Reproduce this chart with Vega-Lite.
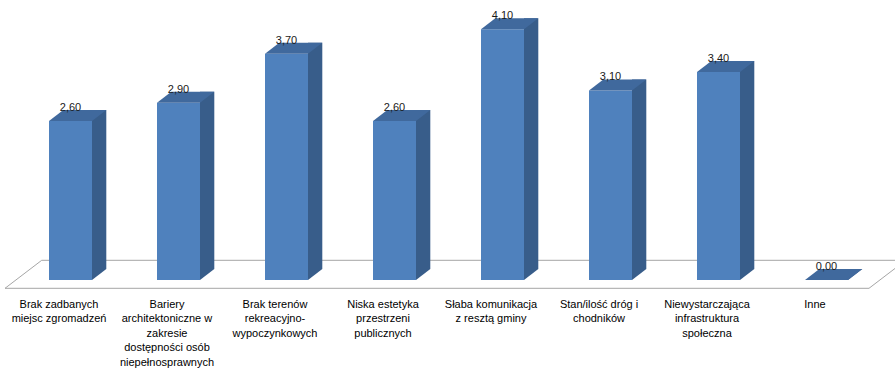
{
  "$schema": "https://vega.github.io/schema/vega-lite/v6.json",
  "width": 895,
  "height": 280,
  "autosize": {"type": "none"},
  "padding": {"left": 0, "top": 0, "right": 0, "bottom": 89},
  "config": {
    "view": {"stroke": null},
    "font": "Liberation Sans"
  },
  "data": {
    "values": [
      {"kategoria": "Brak zadbanych\nmiejsc zgromadzeń", "wartosc": 2.6},
      {"kategoria": "Bariery\narchitektoniczne w\nzakresie\ndostępności osób\nniepełnosprawnych", "wartosc": 2.9},
      {"kategoria": "Brak terenów\nrekreacyjno-\nwypoczynkowych", "wartosc": 3.7},
      {"kategoria": "Niska estetyka\nprzestrzeni\npublicznych", "wartosc": 2.6},
      {"kategoria": "Słaba komunikacja\nz resztą gminy", "wartosc": 4.1},
      {"kategoria": "Stan/ilość dróg i\nchodników", "wartosc": 3.1},
      {"kategoria": "Niewystarczająca\ninfrastruktura\nspołeczna", "wartosc": 3.4},
      {"kategoria": "Inne", "wartosc": 0}
    ]
  },
  "encoding": {
    "x": {
      "field": "kategoria",
      "type": "nominal",
      "sort": null,
      "scale": {
        "domain": [
          "Brak zadbanych\nmiejsc zgromadzeń",
          "Bariery\narchitektoniczne w\nzakresie\ndostępności osób\nniepełnosprawnych",
          "Brak terenów\nrekreacyjno-\nwypoczynkowych",
          "Niska estetyka\nprzestrzeni\npublicznych",
          "Słaba komunikacja\nz resztą gminy",
          "Stan/ilość dróg i\nchodników",
          "Niewystarczająca\ninfrastruktura\nspołeczna",
          "Inne"
        ],
        "range": [16.5, 880.5],
        "paddingInner": 0,
        "paddingOuter": 0
      },
      "axis": {
        "title": null,
        "domain": false,
        "ticks": false,
        "labelAngle": 0,
        "labelExpr": "split(datum.label, '\\n')",
        "labelFont": "Liberation Sans",
        "labelFontSize": 11,
        "labelColor": "#000000",
        "labelLineHeight": 14.6,
        "labelBaseline": "alphabetic",
        "labelPadding": 27,
        "labelOffset": -11.5,
        "labelOverlap": false,
        "labelBound": false,
        "labelFlush": false,
        "labelLimit": 0
      }
    },
    "y": {
      "field": "wartosc",
      "type": "quantitative",
      "scale": {"domain": [0, 4.579], "nice": false},
      "axis": null
    }
  },
  "layer": [
    {
      "transform": [{"filter": {"field": "kategoria", "equal": "Inne"}}],
      "mark": {"type": "point", "shape": "M-821.5,8.3L42.5,8.3L79.2,-19.7L-784.8,-19.7Z", "size": 4, "filled": false, "fill": "#ffffff", "fillOpacity": 1, "stroke": "#a6a6a6", "strokeWidth": 1, "strokeOpacity": 1, "opacity": 1},
      "encoding": {"y": {"datum": 0}}
    },
    {
      "mark": {"type": "bar", "width": 14.3, "xOffset": 28.65, "yOffset": -11, "y2Offset": -11, "color": "#385D8A"},
      "encoding": {"y2": {"datum": 0}}
    },
    {
      "mark": {"type": "point", "shape": "M21.5,0L21.5,-11L35.8,-11Z", "size": 4, "filled": true, "color": "#385D8A", "opacity": 1, "strokeWidth": 0},
      "encoding": {"y": {"datum": 0}}
    },
    {
      "mark": {"type": "bar", "width": 43, "color": "#4F81BD"}
    },
    {
      "mark": {"type": "point", "shape": "M-21.5,0L21.5,0L35.8,-11L-7.2,-11Z", "size": 4, "filled": true, "color": "#40699D", "opacity": 1, "strokeWidth": 0}
    },
    {
      "mark": {"type": "text", "dy": -10, "baseline": "alphabetic", "align": "center", "fontSize": 11, "font": "Liberation Sans", "color": "#1a1a1a", "text": {"expr": "replace(format(datum.wartosc, '.2f'), '.', ',')"}}
    }
  ]
}
